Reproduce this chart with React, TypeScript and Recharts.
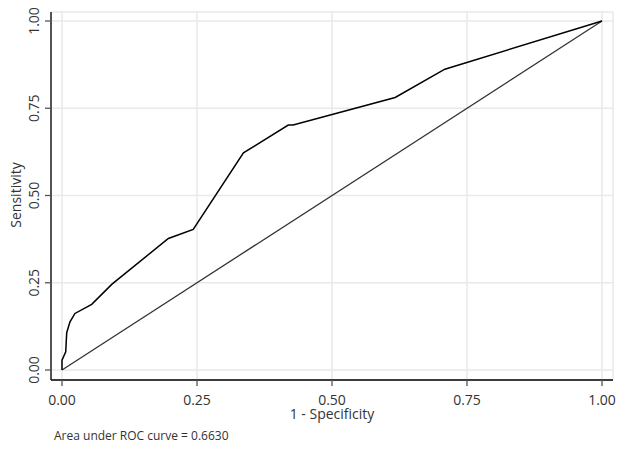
import React from 'react';
import { LineChart, Line, XAxis, YAxis, CartesianGrid } from 'recharts';

const rocFpr = [0, 0, 0.0069, 0.0087, 0.0148, 0.024, 0.055, 0.0926, 0.197, 0.243, 0.336, 0.419, 0.428, 0.617, 0.709, 1];
const rocTpr = [0, 0.028, 0.052, 0.107, 0.138, 0.162, 0.188, 0.246, 0.377, 0.403, 0.622, 0.702, 0.702, 0.781, 0.862, 1];
const refX = [0, 1];
const refY = [0, 1];
const axisTicks = [0, 0.25, 0.5, 0.75, 1];
const xTitle = '1 - Specificity';
const yTitle = 'Sensitivity';
const aucNote = 'Area under ROC curve = 0.6630';

const rocData = rocFpr.map((x, i) => ({ x, y: rocTpr[i] }));
const refData = refX.map((x, i) => ({ x, y: refY[i] }));

const FONT = '"Open Sans", sans-serif';

const XTick = (props: any) => {
  const { x, y, payload } = props;
  return (
    <text x={x} y={y} dy={10} textAnchor="middle" fontFamily={FONT} fontSize={14} fill="#333">
      {Number(payload.value).toFixed(2)}
    </text>
  );
};

const YTick = (props: any) => {
  const { x, y, payload } = props;
  return (
    <text x={x} y={y} textAnchor="middle" transform={`rotate(-90, ${x}, ${y})`} fontFamily={FONT} fontSize={14} fill="#333">
      {Number(payload.value).toFixed(2)}
    </text>
  );
};

const YLabel = (props: any) => {
  const vb = props.viewBox || { x: 0, y: 12, width: 51, height: 368 };
  const cx = vb.x + 21;
  const cy = vb.y + vb.height / 2 - 1;
  return (
    <text x={cx} y={cy} textAnchor="middle" transform={`rotate(-90, ${cx}, ${cy})`} fontFamily={FONT} fontSize={14} fill="#333">
      {yTitle}
    </text>
  );
};

const XLabel = (props: any) => {
  const vb = props.viewBox || { x: 51, y: 380, width: 562, height: 71 };
  const cx = vb.x + vb.width / 2;
  return (
    <text x={cx} y={vb.y + 39} textAnchor="middle" fontFamily={FONT} fontSize={14} fill="#333">
      {xTitle}
    </text>
  );
};

export default function App() {
  return (
    <div style={{ position: 'absolute', left: 0, top: 0, width: 619, height: 451, background: '#fff' }}>
      <LineChart width={619} height={451} margin={{ top: 12, right: 6, left: 0, bottom: 0 }}>
        <CartesianGrid stroke="#e9e9e9" strokeWidth={1.5} />
        <XAxis
          type="number"
          dataKey="x"
          domain={[0, 1]}
          ticks={axisTicks}
          padding={{ left: 11, right: 11 }}
          height={71}
          axisLine={{ stroke: '#000', strokeWidth: 1.3 }}
          tickLine={{ stroke: '#555', strokeWidth: 1.3 }}
          tickSize={6}
          tickMargin={9}
          tick={<XTick />}
          label={<XLabel />}
        />
        <YAxis
          type="number"
          dataKey="y"
          domain={[0, 1]}
          ticks={axisTicks}
          padding={{ top: 9, bottom: 10 }}
          width={51}
          axisLine={{ stroke: '#000', strokeWidth: 1.3 }}
          tickLine={{ stroke: '#555', strokeWidth: 1.3 }}
          tickSize={6}
          tickMargin={6}
          tick={<YTick />}
          label={<YLabel />}
        />
        <Line data={refData} dataKey="y" type="linear" stroke="#333" strokeWidth={1.3} dot={false} isAnimationActive={false} />
        <Line data={rocData} dataKey="y" type="linear" stroke="#000" strokeWidth={1.5} dot={false} isAnimationActive={false} />
      </LineChart>
      <div style={{ position: 'absolute', left: 54, top: 428, fontFamily: FONT, fontSize: 12, color: '#333', whiteSpace: 'nowrap', lineHeight: '16px' }}>
        {aucNote}
      </div>
    </div>
  );
}
